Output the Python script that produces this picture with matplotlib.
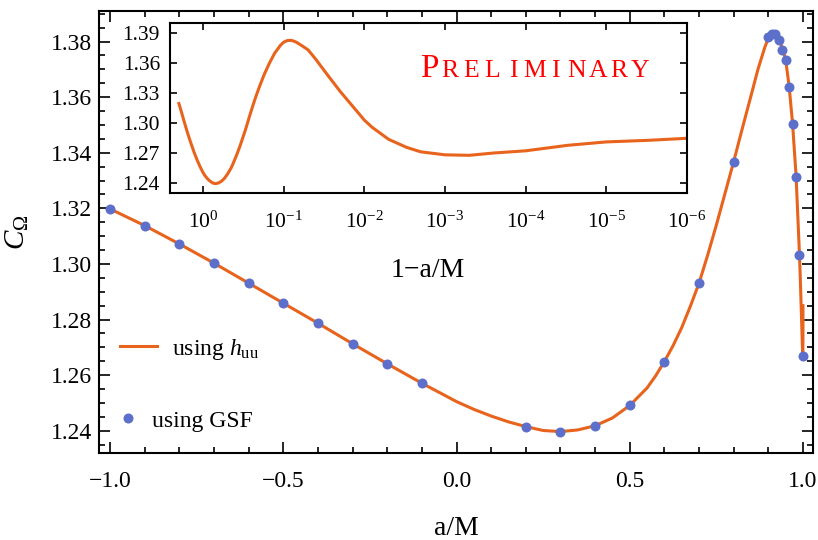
import matplotlib
matplotlib.use('Agg')
import matplotlib.pyplot as plt
from matplotlib.ticker import MultipleLocator, FixedLocator, FuncFormatter, NullLocator, LogFormatterMathtext
from matplotlib.lines import Line2D

plt.rcParams['font.family'] = ['Liberation Serif', 'DejaVu Serif']
plt.rcParams['mathtext.fontset'] = 'custom'
plt.rcParams['mathtext.rm'] = 'Liberation Serif'
plt.rcParams['mathtext.it'] = 'Liberation Serif:italic'

# C_Omega computed from h_uu, versus spin a/M
spin_huu = [-1.0, -0.9, -0.8, -0.7, -0.6, -0.5, -0.4, -0.3, -0.2, -0.1,
            0.0, 0.05, 0.1, 0.15, 0.2, 0.25, 0.3, 0.35, 0.4, 0.45, 0.5,
            0.55, 0.575, 0.6, 0.625, 0.65, 0.675, 0.7, 0.725, 0.75, 0.775, 0.8,
            0.825, 0.85, 0.87, 0.89, 0.9, 0.91,
            0.92, 0.93, 0.94, 0.95, 0.96, 0.97, 0.98, 0.99, 0.992, 0.995,
            0.997, 0.998, 0.999, 0.9995, 0.99975, 0.9999, 0.99997, 0.99999,
            0.999997, 0.999999]
c_huu = [1.3198, 1.3138, 1.3072, 1.3003, 1.2931, 1.2859, 1.2787, 1.2713, 1.2641, 1.2571,
         1.2505, 1.2477, 1.2453, 1.2432, 1.2415, 1.2401, 1.2397, 1.2403, 1.2418, 1.2446, 1.2491,
         1.2554, 1.2598, 1.2649, 1.2706, 1.2771, 1.2848, 1.2931, 1.3032, 1.3140, 1.3254, 1.3368,
         1.3488, 1.3605, 1.3700, 1.3780, 1.3812, 1.3828,
         1.3830, 1.3812, 1.3778, 1.3735, 1.3640, 1.3505, 1.3320, 1.3032, 1.2960, 1.2840,
         1.2760, 1.2715, 1.2685, 1.2680, 1.2703, 1.2725, 1.2780, 1.2814,
         1.2830, 1.2850]

# C_Omega from the gravitational self-force data
spin_gsf = [-1.0, -0.9, -0.8, -0.7, -0.6, -0.5, -0.4, -0.3, -0.2, -0.1,
            0.2, 0.3, 0.4, 0.5, 0.6, 0.7, 0.8, 0.9, 0.91, 0.92, 0.93,
            0.94, 0.95, 0.96, 0.97, 0.98, 0.99, 0.999]
c_gsf = [1.3198, 1.3138, 1.3072, 1.3003, 1.2931, 1.2859, 1.2787, 1.2713, 1.2641, 1.2571,
         1.2415, 1.2397, 1.2418, 1.2491, 1.2649, 1.2931, 1.3368, 1.3816, 1.3827, 1.3827, 1.3806,
         1.3770, 1.3733, 1.3635, 1.3503, 1.3312, 1.3032, 1.2669]

inset_decades = [0, -1, -2, -3, -4, -5, -6]
main_yticks = [1.24, 1.26, 1.28, 1.30, 1.32, 1.34, 1.36, 1.38]
inset_yticks = [1.24, 1.27, 1.30, 1.33, 1.36, 1.39]

line_color = '#E8631C'
dot_color = '#5C6FCB'


def signed(fmt):
    def f(v, pos):
        if abs(v) < 1e-9:
            v = 0.0
        return (fmt % v).replace('-', '\u2212')
    return FuncFormatter(f)


fig = plt.figure(figsize=(8.18, 5.4), dpi=100)

# main panel
ax = fig.add_axes([0.1210, 0.1611, 0.8729, 0.8185])
ax.plot(spin_huu, c_huu, color=line_color, lw=2.2, zorder=2)
ax.plot(spin_gsf, c_gsf, 'o', color=dot_color, ms=7.2, mew=0, zorder=3)
ax.set_xlim(-1.032, 1.029)
ax.set_ylim(1.232, 1.391)
ax.xaxis.set_major_locator(MultipleLocator(0.5))
ax.xaxis.set_minor_locator(MultipleLocator(0.1))
ax.yaxis.set_major_locator(FixedLocator(main_yticks))
ax.yaxis.set_minor_locator(MultipleLocator(0.005))
ax.xaxis.set_major_formatter(signed('%.1f'))
ax.yaxis.set_major_formatter(signed('%.2f'))
ax.tick_params(which='both', direction='in', top=True, right=True, width=1.2, labelsize=17)
ax.tick_params(which='major', length=8)
ax.tick_params(which='minor', length=4.3)
ax.tick_params(axis='x', pad=13)
ax.tick_params(axis='y', pad=5)
for s in ax.spines.values():
    s.set_linewidth(1.5)
ax.set_xlabel('a/M', fontsize=20, labelpad=17)
ax.set_ylabel(r'$C_{\Omega}$', fontsize=21, labelpad=14)

# legend entries, placed one by one
leg1 = ax.legend([Line2D([], [], color=line_color, lw=2.2)], [r'using $h_{\rm uu}$'],
                 loc='center left', bbox_to_anchor=(0.029, 0.235), frameon=False,
                 borderpad=0, borderaxespad=0, handlelength=1.57, handletextpad=0.64,
                 fontsize=17)
ax.add_artist(leg1)
ax.legend([Line2D([], [], color=dot_color, marker='o', ls='none', ms=7.2, mew=0)],
          ['using GSF'], loc='center left', bbox_to_anchor=(0.0274, 0.073),
          frameon=False, borderpad=0, borderaxespad=0, handlelength=0.8,
          handletextpad=0.61, fontsize=17)

# inset: the same curve against 1 - a/M on a log scale
ins = fig.add_axes([0.2075, 0.642, 0.632, 0.3148])
ins.plot([1 - a for a in spin_huu], c_huu, color=line_color, lw=2.2)
ins.set_xscale('log')
ins.set_xlim(2.6, 1e-6)
ins.set_ylim(1.23, 1.40)
ins.xaxis.set_major_locator(FixedLocator([10.0 ** d for d in inset_decades]))
ins.xaxis.set_minor_locator(NullLocator())
ins.xaxis.set_major_formatter(LogFormatterMathtext())
ins.yaxis.set_major_locator(FixedLocator(inset_yticks))
ins.yaxis.set_major_formatter(signed('%.2f'))
ins.tick_params(which='both', direction='in', top=True, right=True, width=1.2,
                length=5, labelsize=15.5)
ins.tick_params(axis='x', pad=13)
ins.tick_params(axis='y', pad=7)
for s in ins.spines.values():
    s.set_linewidth(1.5)
ins.set_xlabel('1\u2212a/M', fontsize=20, labelpad=18)

# small-caps watermark, one letter per fixed-width cell
word = 'PRELIMINARY'
x0 = 0.5015
ins.text(x0, 0.684, word[0], transform=ins.transAxes, color='red',
         family='Liberation Serif', fontsize=24, ha='center', va='baseline')
for i, ch in enumerate(word[1:]):
    ins.text(x0 + (21.0 + i * 21.1) / 517, 0.684, ch, transform=ins.transAxes,
             color='red', family='Liberation Serif', fontsize=18.5,
             ha='center', va='baseline')

fig.savefig('out.png', dpi=100)
